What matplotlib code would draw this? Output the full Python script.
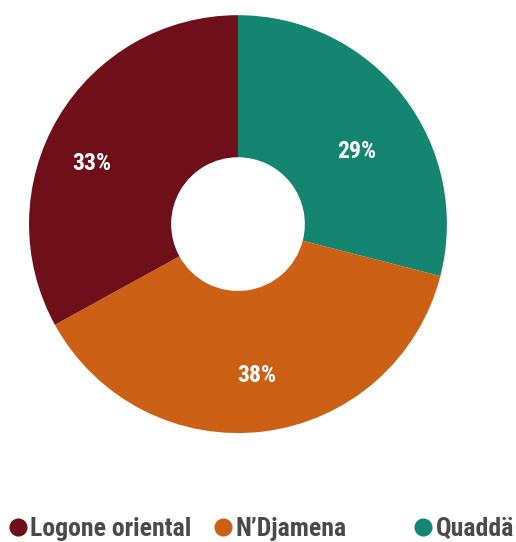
import matplotlib
matplotlib.use("Agg")
import matplotlib.pyplot as plt
from matplotlib import font_manager
from matplotlib.lines import Line2D

regions = ["Quaddä", "N’Djamena", "Logone oriental"]
shares = [29, 38, 33]
colors = ["#138571", "#cc6014", "#6e0f1a"]

legend_order = ["Logone oriental", "N’Djamena", "Quaddä"]

# pick a condensed bold font if one is around
names = {f.name for f in font_manager.fontManager.ttflist}
font = "DejaVu Sans"
for cand in ["Roboto Condensed", "Liberation Sans Narrow", "DejaVu Sans Condensed"]:
    if cand in names:
        font = cand
        break
plt.rcParams["font.family"] = [font, "DejaVu Sans"]

fig = plt.figure(figsize=(5.16, 5.42), dpi=100)
ax = fig.add_axes([0.0562, 0.201, 0.810, 0.771])

wedges, texts, autotexts = ax.pie(
    shares, colors=colors, startangle=90, counterclock=False,
    wedgeprops=dict(width=0.68, linewidth=0),
    autopct=lambda p: f"{p:.0f}%", pctdistance=0.73,
    textprops=dict(color="white", fontsize=17, fontweight="bold"),
)
# small nudges so labels sit where the original has them
nudges = [(-0.01, -0.1), (0.0, 0.0), (-0.07, -0.08)]
for t, (dx, dy) in zip(autotexts, nudges):
    x, y = t.get_position()
    t.set_position((x + dx, y + dy))

ax.set_xlim(-1, 1)
ax.set_ylim(-1, 1)
ax.set_aspect("equal")

# legend entries sit at fixed column positions
xs = [0.010, 0.407, 0.795]
for x, name in zip(xs, legend_order):
    c = colors[regions.index(name)]
    h = Line2D([], [], marker="o", linestyle="none", markersize=12,
               markerfacecolor=c, markeredgecolor=c)
    leg = fig.legend([h], [name], loc="center left", bbox_to_anchor=(x, 0.024),
                     frameon=False, handletextpad=-0.02, handlelength=1.0,
                     borderpad=0, borderaxespad=0,
                     prop=dict(size=18.5, weight="bold"))
    for t in leg.get_texts():
        t.set_color("#4a4a4a")

fig.savefig("out.png", dpi=100)
